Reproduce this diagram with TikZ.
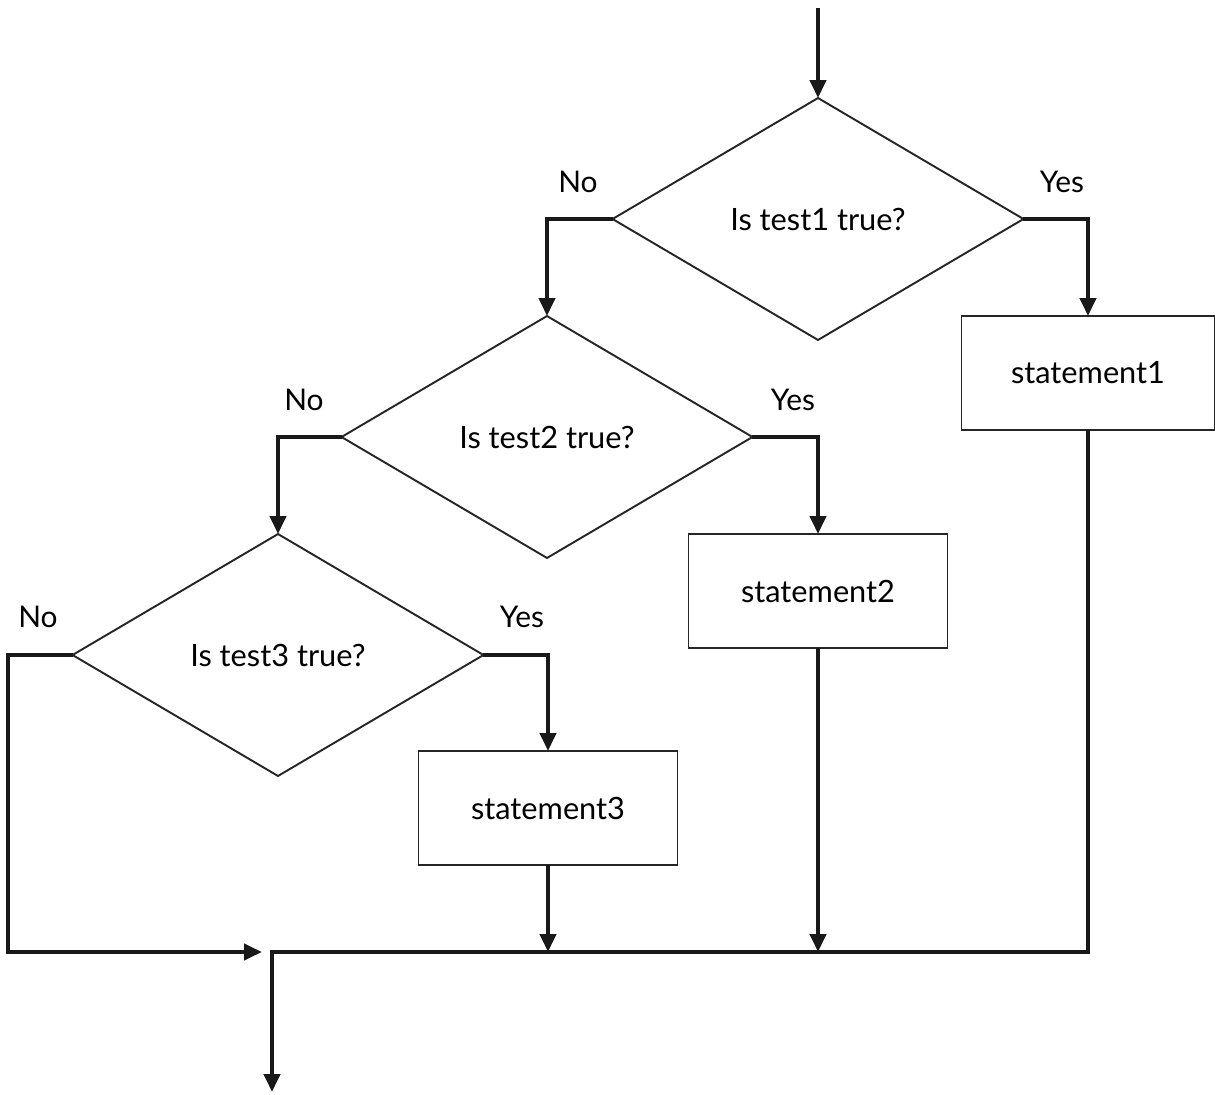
\documentclass[tikz,border=0pt]{standalone}
\usepackage{fontspec}
\setmainfont{Lato}
\usetikzlibrary{shapes.geometric,arrows.meta}
\begin{document}
\begin{tikzpicture}[x=0.02cm,y=-0.02cm,
  conn/.style={line width=2.3pt,color=black!90,-{Triangle[length=0.36cm,width=0.32cm]}},
  decision/.style={diamond,draw=black!85,line width=1.1pt,inner sep=0pt,outer sep=0pt,
     minimum width=8.22cm,minimum height=4.84cm,font=\fontsize{17.5}{21}\selectfont},
  stmt/.style={rectangle,draw=black!85,line width=1.1pt,inner sep=0pt,outer sep=0pt,
     minimum width=5.18cm,minimum height=2.28cm,font=\fontsize{17.5}{21}\selectfont},
  lbl/.style={font=\fontsize{17}{20}\selectfont,inner sep=0pt}]
\useasboundingbox (0,0) rectangle (1215,1095);
\node[decision] (d1) at (818,219) {Is test1 true?};
\node[decision] (d2) at (547,437) {Is test2 true?};
\node[decision] (d3) at (278,655) {Is test3 true?};
\node[stmt,minimum width=5.06cm] (s1) at (1088,373) {statement1};
\node[stmt] (s2) at (818,591) {statement2};
\node[stmt] (s3) at (548,808) {statement3};
\node[lbl] (n1) at (578,182) {No};
\node[lbl] (y1) at (1062,182) {Yes};
\node[lbl] (n2) at (304,400) {No};
\node[lbl] (y2) at (793,400) {Yes};
\node[lbl] (n3) at (38,617) {No};
\node[lbl] (y3) at (522,617) {Yes};
\coordinate (start) at (818,8);
\coordinate (m) at (272,952);
\coordinate (mend) at (272,1092);
\coordinate (lcorner) at (8,952);
\coordinate (lend) at (262,952);
\draw[conn] (start) -- (d1.north);
\draw[conn] (d1.west) -| (d2.north);
\draw[conn] (d1.east) -| (s1.north);
\draw[conn] (d2.west) -| (d3.north);
\draw[conn] (d2.east) -| (s2.north);
\draw[conn] (d3.east) -| (s3.north);
\draw[conn] (d3.west) -| (lcorner) -- (lend);
\draw[conn] (s1.south) |- (m) -- (mend);
\draw[conn] (s2.south) -- (s2.south |- m);
\draw[conn] (s3.south) -- (s3.south |- m);
\end{tikzpicture}
\end{document}
